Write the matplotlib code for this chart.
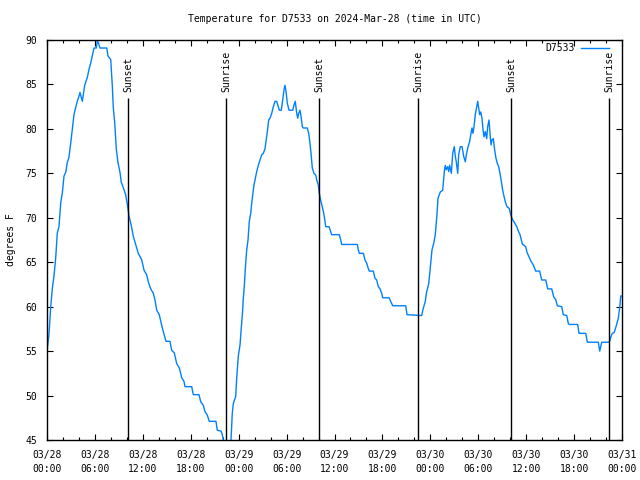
"""
Temperature trace for station D7533 with sunrise/sunset markers,
redrawn in the style of the gnuplot original.
"""
import numpy as np
import pandas as pd
import matplotlib
matplotlib.use("Agg")
import matplotlib.pyplot as plt
import matplotlib.dates as mdates

start = pd.Timestamp("2024-03-28 00:00")
end = pd.Timestamp("2024-03-31 00:00")

# hours since 03/28 00:00 UTC
hours = [
    0.00, 0.25, 0.46, 0.66, 0.88, 1.09, 1.29, 1.50, 1.72, 1.92, 2.13, 2.34, 2.54, 2.75,
    2.97, 3.17, 3.38, 3.59, 3.79, 4.01, 4.13, 4.30, 4.42, 4.55, 4.72, 5.05, 5.26, 5.47,
    5.67, 5.89, 6.17, 6.30, 6.42, 6.64, 7.48, 7.64, 7.98, 8.05, 8.18, 8.30, 8.48, 8.68,
    8.89, 9.14, 9.30, 9.55, 9.85, 10.06, 10.27, 10.56, 10.81, 11.43, 11.86, 12.15, 12.48,
    12.68, 12.99, 13.31, 13.52, 13.74, 14.06, 14.36, 14.56, 14.90, 15.40, 15.61, 15.94,
    16.24, 16.57, 16.87, 17.15, 17.28, 18.12, 18.32, 19.03, 19.25, 19.57, 19.78, 20.07,
    20.32, 21.16, 21.32, 21.79, 21.95, 22.08, 22.29, 22.79, 23.04, 23.20, 23.33, 23.63,
    23.75, 23.95, 24.17, 24.29, 24.46, 24.58, 24.71, 24.88, 25.01, 25.17, 25.33, 25.51,
    25.63, 25.76, 25.92, 26.08, 26.26, 26.46, 26.67, 26.89, 27.09, 27.30, 27.42, 27.59,
    27.76, 27.92, 28.14, 28.34, 28.55, 28.76, 28.96, 29.09, 29.34, 29.51, 29.68, 29.80,
    29.93, 30.09, 30.30, 30.77, 30.93, 31.09, 31.27, 31.39, 31.52, 31.68, 31.81, 31.97,
    32.09, 32.59, 32.77, 32.93, 33.06, 33.22, 33.43, 33.65, 33.77, 33.97, 34.10, 34.31,
    34.47, 34.65, 34.81, 34.90, 35.31, 35.53, 35.65, 36.60, 36.78, 36.90, 38.86, 38.98,
    39.11, 39.61, 39.82, 40.03, 40.23, 40.36, 40.86, 41.07, 41.28, 41.49, 41.70, 41.91,
    42.04, 42.83, 43.04, 43.29, 44.92, 45.08, 46.92, 47.05, 47.21, 47.37, 47.50, 47.67,
    47.80, 48.00, 48.21, 48.42, 48.62, 48.84, 48.96, 49.25, 49.55, 49.75, 49.87, 50.00,
    50.17, 50.30, 50.42, 50.63, 50.80, 51.00, 51.13, 51.25, 51.43, 51.55, 51.75, 51.97,
    52.18, 52.38, 52.51, 52.72, 52.93, 53.09, 53.22, 53.34, 53.47, 53.63, 53.81, 53.93,
    54.06, 54.18, 54.31, 54.47, 54.60, 54.72, 54.88, 55.06, 55.18, 55.35, 55.47, 55.60,
    55.72, 55.89, 56.06, 56.22, 56.39, 56.56, 56.72, 56.89, 57.06, 57.23, 57.39, 57.60,
    57.89, 58.07, 58.32, 58.57, 58.82, 59.07, 59.23, 59.52, 59.94, 60.11, 60.36, 60.61,
    60.89, 61.19, 61.69, 61.95, 62.45, 62.70, 63.20, 63.45, 63.70, 63.90, 64.45, 64.65,
    65.08, 65.28, 65.40, 66.45, 66.62, 67.46, 67.66, 69.03, 69.21, 69.33, 69.46, 70.41,
    70.62, 70.78, 71.03, 71.25, 71.42, 71.54, 71.67, 71.75, 71.84, 71.96,
]

temps = [
    55.0, 56.9, 59.9, 62.0, 63.5, 65.5, 68.3, 69.0, 71.7, 72.8, 74.7, 75.1, 76.2, 76.8,
    78.4, 80.0, 81.6, 82.4, 83.1, 83.7, 84.1, 83.5, 83.1, 83.9, 84.9, 85.8, 86.7, 87.4,
    88.2, 89.1, 89.1, 89.9, 89.7, 89.1, 89.1, 88.2, 87.8, 86.7, 84.8, 82.4, 80.7, 77.7,
    76.2, 75.1, 74.0, 73.4, 72.6, 71.5, 70.2, 69.1, 67.9, 66.0, 65.25, 64.1, 63.6,
    62.8, 62.0, 61.5, 60.75, 59.6, 59.1, 57.9, 57.2, 56.1, 56.1, 55.1, 54.8,
    53.6, 53.1, 52.0, 51.6, 51.0, 51.0, 50.1, 50.1, 49.3, 48.9, 48.2, 47.8,
    47.1, 47.1, 46.1, 46.0, 45.6, 45.0, 44.0, 44.0, 45.0, 48.0, 49.1, 49.9,
    51.9, 54.4, 55.7, 57.2, 59.1, 60.9, 62.4, 64.9, 66.4, 67.5, 69.6, 70.5,
    71.6, 72.6, 73.7, 74.4, 75.2, 75.9, 76.5, 77.1, 77.25, 77.8, 78.6, 79.7,
    81.0, 81.2, 81.75, 82.5, 83.1, 83.1, 82.5, 82.1, 82.1, 83.25, 84.4, 84.9,
    84.2, 82.9, 82.1, 82.1, 82.7, 83.1, 81.75, 81.2, 81.75, 82.1, 81.4, 80.25,
    80.1, 80.1, 79.5, 78.4, 77.25, 75.6, 75.0, 74.8, 74.25, 73.7, 72.75, 71.8,
    71.25, 70.5, 69.6, 69.0, 69.0, 68.4, 68.1, 68.1, 67.5, 67.0, 67.0, 66.4,
    66.0, 66.0, 65.25, 64.9, 64.3, 64.0, 64.0, 63.2, 63.0, 62.25, 62.0, 61.5,
    61.0, 61.0, 60.6, 60.1, 60.1, 59.1, 59.0, 59.6, 60.1, 60.6, 61.5, 62.1,
    62.6, 64.5, 66.4, 67.1, 68.1, 70.5, 72.2, 72.9, 73.1, 75.2, 75.9, 75.4,
    75.75, 75.2, 75.9, 75.0, 77.25, 78.0, 76.9, 76.3, 75.0, 77.1, 78.0, 78.0,
    76.9, 76.3, 77.1, 78.0, 78.6, 79.5, 80.1, 79.5, 80.25, 81.6, 82.5, 83.1,
    82.3, 81.6, 81.9, 81.2, 79.9, 79.1, 79.7, 78.9, 80.25, 81.0, 79.5, 78.2,
    78.75, 78.9, 77.6, 76.7, 76.1, 75.75, 75.0, 74.1, 73.1, 72.4, 71.8, 71.25,
    71.05, 70.3, 69.75, 69.4, 69.0, 68.4, 68.1, 67.05, 66.75, 66.1, 65.6, 65.1,
    64.7, 64.0, 64.0, 63.0, 63.0, 62.0, 62.0, 61.1, 60.8, 60.1, 60.0, 59.1,
    59.0, 58.1, 58.0, 58.0, 57.0, 57.0, 56.0, 56.0, 55.0, 55.5, 56.0, 56.0,
    56.6, 57.0, 57.1, 57.75, 58.3, 58.7, 59.6, 60.2, 61.2, 61.2,
]

sun_times = ["2024-03-28 10:11", "2024-03-28 22:25", "2024-03-29 10:04",
             "2024-03-29 22:29", "2024-03-30 10:06", "2024-03-30 22:25"]
sun_labels = ["Sunset", "Sunrise", "Sunset", "Sunrise", "Sunset", "Sunrise"]

font = "DejaVu Sans Mono"
fs = 7
line_color = "#0080ff"

plt.rcParams.update({"font.family": font, "font.size": fs})

fig = plt.figure(figsize=(6.4, 4.8), dpi=100)
ax = fig.add_axes([47 / 640, 40 / 480, 575 / 640, 400 / 480])

times = start + pd.to_timedelta(np.array(hours), unit="h")
ax.plot(times, temps, color=line_color, lw=1.0, label="D7533")

for t, lab in zip(sun_times, sun_labels):
    tt = pd.Timestamp(t)
    ax.vlines(tt, 45, 83.45, color="black", lw=1.0)
    ax.text(tt, 84.2, lab, rotation=90, ha="center", va="bottom", fontsize=fs)

ax.set_xlim(start, end)
ax.set_ylim(45, 90)
ax.set_yticks(range(45, 91, 5))

ax.xaxis.set_major_locator(mdates.HourLocator(byhour=range(0, 24, 6)))
ax.xaxis.set_minor_locator(mdates.HourLocator(byhour=range(0, 24, 2)))
ax.xaxis.set_major_formatter(mdates.DateFormatter("%m/%d\n%H:%M"))
plt.setp(ax.get_xticklabels(), linespacing=1.55)

ax.tick_params(which="major", direction="in", length=4, width=0.8,
               top=True, right=True, labelsize=fs, pad=7)
ax.tick_params(which="minor", direction="in", length=2, width=0.8,
               top=True, right=True)
ax.tick_params(axis="y", pad=7)
for sp in ax.spines.values():
    sp.set_linewidth(1.0)
    sp.set_color("black")

ax.set_ylabel("degrees F", fontsize=fs, labelpad=7)
ax.set_title("Temperature for D7533 on 2024-Mar-28 (time in UTC)", fontsize=fs, pad=13)

ax.legend(loc="upper right", bbox_to_anchor=((609 - 47) / 575, 0.992),
          frameon=False, markerfirst=False, handlelength=2.9,
          handletextpad=0.6, borderaxespad=0, borderpad=0, fontsize=fs)

plt.savefig("out.png", dpi=100)
